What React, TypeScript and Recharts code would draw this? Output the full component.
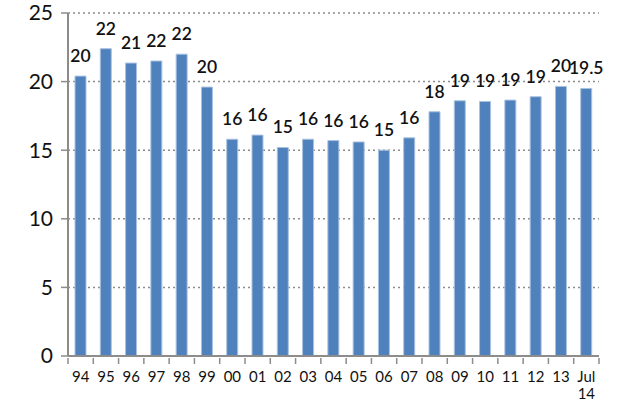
import React from 'react';
import {
  BarChart,
  Bar,
  XAxis,
  YAxis,
  CartesianGrid,
  LabelList,
} from 'recharts';

// years (Jul 14 is split over two lines)
const categories = ['94', '95', '96', '97', '98', '99', '00', '01', '02', '03', '04', '05', '06', '07', '08', '09', '10', '11', '12', '13', 'Jul\n14'];
const values = [20.4, 22.4, 21.35, 21.5, 22.0, 19.6, 15.8, 16.1, 15.2, 15.8, 15.7, 15.6, 15.0, 15.9, 17.8, 18.6, 18.55, 18.65, 18.9, 19.65, 19.5];
const valueLabels = ['20', '22', '21', '22', '22', '20', '16', '16', '15', '16', '16', '16', '15', '16', '18', '19', '19', '19', '19', '20', '19.5'];
const yTicks = [0, 5, 10, 15, 20, 25];

const chartData = categories.map((c, i) => ({ name: c, value: values[i], label: valueLabels[i] }));

const FONT = 'Lato, "Open Sans", sans-serif';
const PLOT_LEFT = 68;
const PLOT_RIGHT = 599;
const BAND = (PLOT_RIGHT - PLOT_LEFT) / categories.length;

const XTick = (props: any) => {
  const { x, y, payload, index } = props;
  const lines = String(payload.value).split('\n');
  const isLast = index === categories.length - 1;
  return (
    <g>
      <line x1={x - BAND / 2} x2={x - BAND / 2} y1={y - 6} y2={y} stroke="#8c8c8c" strokeWidth={1.5} />
      {isLast && <line x1={x + BAND / 2} x2={x + BAND / 2} y1={y - 6} y2={y} stroke="#8c8c8c" strokeWidth={1.5} />}
      {lines.map((l, i) => (
        <text key={i} x={x} y={y + 18 + i * 17} textAnchor="middle" fontSize={15} fontFamily={FONT} fill="#111">
          {l}
        </text>
      ))}
    </g>
  );
};

const ValueLabel = (props: any) => {
  const { x, y, width, value } = props;
  return (
    <text x={x + width / 2} y={y - 14} textAnchor="middle" fontSize={17.5} fontWeight={600} fontFamily={FONT} fill="#111">
      {value}
    </text>
  );
};

export default function App() {
  return (
    <div style={{ position: 'absolute', left: 0, top: 0, background: '#fff' }}>
      <BarChart
        width={618}
        height={401}
        data={chartData}
        margin={{ top: 13, right: 19, left: 0, bottom: 0 }}
        barSize={11}
      >
        <CartesianGrid vertical={false} stroke="#8c8c8c" strokeDasharray="2 3" strokeWidth={1.5} />
        <XAxis
          dataKey="name"
          height={45}
          axisLine={{ stroke: '#8c8c8c', strokeWidth: 2 }}
          tickLine={false}
          interval={0}
          tick={<XTick />}
        />
        <YAxis
          width={68}
          domain={[0, 25]}
          ticks={yTicks}
          axisLine={{ stroke: '#8c8c8c', strokeWidth: 2 }}
          tickLine={{ stroke: '#8c8c8c', strokeWidth: 1.5 }}
          tickSize={7}
          tickMargin={8}
          tick={{ fontSize: 21, fontFamily: FONT, fill: '#111' }}
        />
        <Bar dataKey="value" fill="#4f81bd" stroke="#a9c2e0" strokeWidth={1} isAnimationActive={false}>
          <LabelList dataKey="label" content={<ValueLabel />} />
        </Bar>
      </BarChart>
    </div>
  );
}
